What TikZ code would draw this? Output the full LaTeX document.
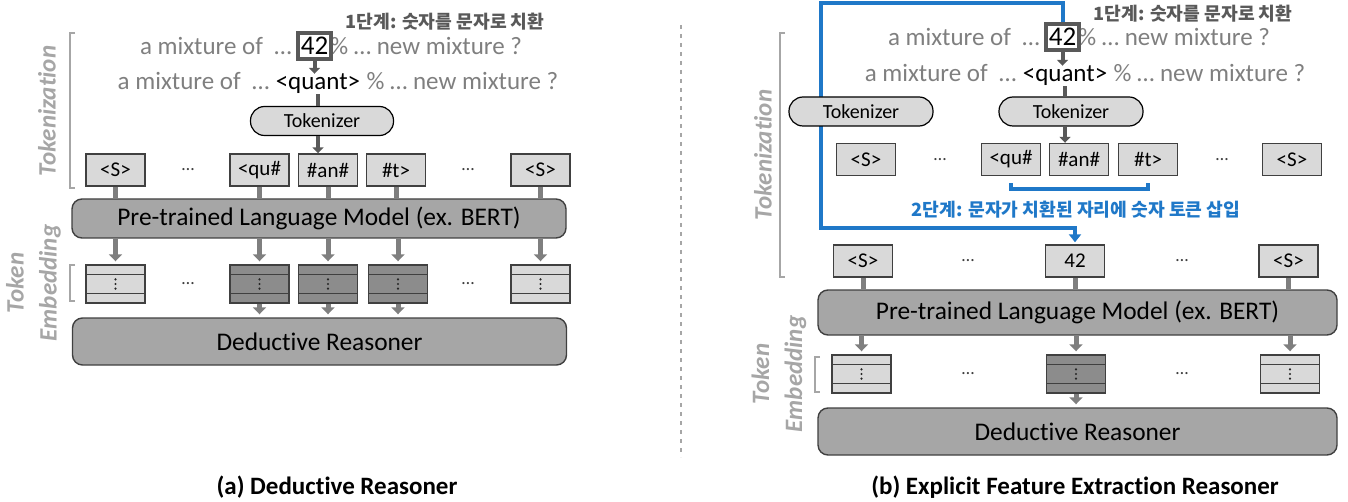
\documentclass[tikz,border=0pt]{standalone}
\usepackage{fontspec}
\setmainfont{Carlito}[Ligatures=NoCommon]
\newfontfamily\kr{Noto Sans CJK KR}
\usetikzlibrary{arrows.meta,backgrounds,calc}

\definecolor{txtgray}{HTML}{7F7F7F}
\definecolor{labgray}{HTML}{A6A6A6}
\definecolor{tokfill}{HTML}{D9D9D9}
\definecolor{plmfill}{HTML}{A6A6A6}
\definecolor{darkemb}{HTML}{8C8C8C}
\definecolor{boxline}{HTML}{404040}
\definecolor{linkgray}{HTML}{7F7F7F}
\definecolor{darklink}{HTML}{595959}
\definecolor{stepblue}{HTML}{1F78C8}

\tikzset{
  tok/.style={draw=boxline, line width=0.7pt, fill=tokfill, minimum width=29.5pt,
    minimum height=16pt, inner sep=0pt, font=\fontsize{10.5}{12}\selectfont},
  embbox/.style={draw=boxline, line width=0.7pt, fill=#1, minimum width=29.5pt,
    minimum height=19pt, inner sep=0pt,
    path picture={
      \draw[boxline, line width=0.5pt]
        ([yshift=-4.5pt]path picture bounding box.north west) --
        ([yshift=-4.5pt]path picture bounding box.north east);
      \draw[boxline, line width=0.5pt]
        ([yshift=5pt]path picture bounding box.south west) --
        ([yshift=5pt]path picture bounding box.south east);
      \foreach \d in {-2.3pt,0pt,2.3pt}
        \fill[black!85] ([yshift=\d]path picture bounding box.center) circle (0.6pt);
    }},
  bigbox/.style={draw=boxline, line width=0.7pt, fill=plmfill, rounded corners=5pt,
    inner sep=0pt, font=\fontsize{12.7}{15}\selectfont},
  tokzr/.style={draw=black, line width=0.6pt, fill=tokfill, rounded corners=7pt,
    minimum width=71.5pt, minimum height=14.5pt, inner sep=0pt,
    font=\fontsize{10}{12}\selectfont},
  sent/.style={text=txtgray, inner sep=0pt, font=\fontsize{12.5}{15}\selectfont},
  numbox/.style={draw=darklink, line width=2pt, fill=white, minimum width=16.5pt,
    minimum height=13pt, inner sep=0pt, font=\fontsize{13.5}{15}\selectfont},
  hdots/.style={inner sep=0pt, text=black!75, font=\fontsize{9}{10}\selectfont},
  sidelab/.style={text=labgray, rotate=90, align=center, inner sep=0pt,
    font=\fontsize{12.5}{16.5}\selectfont\bfseries\itshape},
  brk/.style={draw=labgray, line width=1.3pt},
  stepnote/.style={inner sep=0pt, font=\kr\bfseries\fontsize{9.1}{11}\selectfont},
  caption/.style={inner sep=0pt, font=\fontsize{12.5}{15}\selectfont\bfseries},
  glink/.style={draw=linkgray, line width=2.5pt},
  garrow/.style={draw=linkgray, line width=2.5pt, -{Triangle[width=6.5pt,length=3.5pt]}},
  darrow/.style={draw=darklink, line width=2pt, -{Triangle[width=5.5pt,length=3pt]}},
  dlink/.style={draw=darklink, line width=2pt},
  bluepath/.style={draw=stepblue, line width=2pt, -{Triangle[width=6pt,length=4pt]}},
  bluebrk/.style={draw=stepblue, line width=2pt},
  sepline/.style={draw=labgray, line width=1pt, dash pattern=on 2pt off 2.5pt},
}

\begin{document}
\begin{tikzpicture}[x=0.5pt, y=-0.5pt]
\path[use as bounding box] (0,0) rectangle (1348,502);

% ---------------- (a) Deductive Reasoner ----------------
\node[stepnote, text=darklink] (ltitle) at (445,22) {1단계: 숫자를 문자로 치환};

\node[numbox, anchor=base] (l42) at (314.5,55) {42};
\node[text=black, inner sep=0pt, font=\fontsize{12.5}{15}\selectfont, anchor=base] (lq) at (318,90) {<quant>};
\begin{scope}[on background layer]
  \node[sent, anchor=base east] (l1a) at ([xshift=-2pt]l42.base west) {a mixture of\ \ …\ };
  \node[sent, anchor=base west] (l1b) at ([xshift=-1.5pt]l42.base east) {\% … new mixture ?};
\end{scope}
\node[sent, anchor=base east] (l2a) at (lq.base west) {a mixture of\ \ …\ \ };
\node[sent, anchor=base west] (l2b) at (lq.base east) {\ \% … new mixture ?};

\node[tokzr] (ltkz) at (322,121) {Tokenizer};

\node[tok] (lt1) at (115.5,170) {<S>};
\node[tok] (lt2) at (259.5,170) {<qu\#};
\node[tok] (lt3) at (328,170) {\#an\#};
\node[tok] (lt4) at (396,170) {\#t>};
\node[tok] (lt5) at (540.5,170) {<S>};
\node[hdots] (ltd1) at (188,170) {…};
\node[hdots] (ltd2) at (468,170) {…};

\node[bigbox, minimum width=247pt, minimum height=19.5pt] (lplm) at (319,218.5)
  {Pre-trained Language Model (ex. BERT)};

\node[embbox=tokfill] (le1) at (115.5,284) {};
\node[embbox=darkemb] (le2) at (259.5,284) {};
\node[embbox=darkemb] (le3) at (328,284) {};
\node[embbox=darkemb] (le4) at (398,284) {};
\node[embbox=tokfill] (le5) at (540.5,284) {};
\node[hdots] (led1) at (188,284) {…};
\node[hdots] (led2) at (468,284) {…};

\node[bigbox, minimum width=247pt, minimum height=23.5pt] (lded) at (319.5,341.5)
  {Deductive Reasoner};

\draw[darrow] (l42.south) -- (l42.south |- lq.north);
\draw[dlink] (lq.south) -- (lq.south |- ltkz.north);
\draw[darrow] (ltkz.south -| lq) -- (lq |- lt3.north);
\foreach \t in {lt1,lt2,lt3,lt4,lt5}
  \draw[glink] (\t.south) -- (\t.south |- lplm.north);
\foreach \e in {le1,le2,le3,le4,le5}
  \draw[garrow, shorten >=1.5pt] (lplm.south -| \e) -- (\e.north);
\foreach \e in {le2,le3,le4}
  \draw[garrow, shorten >=1.5pt] (\e.south) -- (\e.south |- lded.north);

\node[sidelab] (ltokl) at (47,111) {Tokenization};
\draw[brk] (75,33) -- (70,33) -- (70,188) -- (75,188);
\node[sidelab] (lembl) at (33.5,283) {Token\\Embedding};
\draw[brk] (75,265) -- (70,265) -- (70,301) -- (75,301);

\node[caption] (lcap) at (337,487) {(a) Deductive Reasoner};

% separator
\draw[sepline] (681,25) -- (681,457);

% ---------------- (b) Explicit Feature Extraction Reasoner ----------------
\node[stepnote, text=darklink] (rtitle) at (1193,14) {1단계: 숫자를 문자로 치환};

\node[numbox, anchor=base] (r42) at (1062.5,46) {42};
\node[text=black, inner sep=0pt, font=\fontsize{12.5}{15}\selectfont, anchor=base] (rq) at (1065,82) {<quant>};
\begin{scope}[on background layer]
  \node[sent, anchor=base east] (r1a) at ([xshift=-2pt]r42.base west) {a mixture of\ \ …\ };
  \node[sent, anchor=base west] (r1b) at ([xshift=-1.5pt]r42.base east) {\% … new mixture ?};
\end{scope}
\node[sent, anchor=base east] (r2a) at (rq.base west) {a mixture of\ \ …\ \ };
\node[sent, anchor=base west] (r2b) at (rq.base east) {\ \% … new mixture ?};

\node[tok] (rt1) at (866,159.5) {<S>};
\node[tok] (rt2) at (1011,159.5) {<qu\#};
\node[tok] (rt3) at (1079,159.5) {\#an\#};
\node[tok] (rt4) at (1148,159.5) {\#t>};
\node[tok] (rt5) at (1292,159.5) {<S>};
\node[hdots] (rtd1) at (940,159.5) {…};
\node[hdots] (rtd2) at (1222,159.5) {…};

\node[tok] (rs1) at (863,261) {<S>};
\node[tok] (rs2) at (1075,261) {42};
\node[tok] (rs3) at (1288.5,261) {<S>};
\node[hdots] (rsd1) at (968,261) {…};
\node[hdots] (rsd2) at (1182,261) {…};

% step 2: numeric token is carried over to the place of the split word
\coordinate (bA) at (821,3);
\coordinate (bB) at (821,228);
\begin{scope}[on background layer]
  \draw[bluepath, shorten >=1pt] (r42.north) |- (bA) -- (bB) -| (rs2.north);
\end{scope}

\node[tokzr, minimum width=72pt] (rtkzA) at (861,111.5) {Tokenizer};
\node[tokzr, minimum width=72pt] (rtkzB) at (1071,111.5) {Tokenizer};

\draw[bluebrk] ($(rt2.south)+(0,7)$) -- ($(rt2.south)+(0,13)$) -| ($(rt4.south)+(0,7)$);
\node[stepnote, text=stepblue] (rnote) at (1076,210) {2단계: 문자가 치환된 자리에 숫자 토큰 삽입};

\node[bigbox, minimum width=259.5pt, minimum height=22.5pt] (rplm) at (1077.5,312.5)
  {Pre-trained Language Model (ex. BERT)};

\node[embbox=tokfill] (re1) at (861.5,374) {};
\node[embbox=darkemb] (re2) at (1076,374) {};
\node[embbox=tokfill] (re3) at (1290,374) {};
\node[hdots] (red1) at (968,374) {…};
\node[hdots] (red2) at (1182,374) {…};

\node[bigbox, minimum width=259.5pt, minimum height=23.5pt] (rded) at (1077.5,431.5)
  {Deductive Reasoner};

\draw[darrow] (r42.south) -- (r42.south |- rq.north);
\draw[dlink] (rq.south) -- (rq.south |- rtkzB.north);
\draw[darrow] (rtkzB.south -| rq) -- (rq |- rt3.north);
\foreach \t in {rs1,rs2,rs3}
  \draw[glink] (\t.south) -- (\t.south |- rplm.north);
\foreach \e in {re1,re2,re3}
  \draw[garrow, shorten >=1.5pt] (rplm.south -| \e) -- (\e.north);
\draw[garrow, shorten >=1.5pt] (re2.south) -- (re2.south |- rded.north);

\node[sidelab] (rtokl) at (763,155) {Tokenization};
\draw[brk] (785,33) -- (780,33) -- (780,277) -- (785,277);
\node[sidelab] (rembl) at (779,374) {Token\\Embedding};
\draw[brk] (820,357) -- (815,357) -- (815,392) -- (820,392);

\node[caption] (rcap) at (1075,487) {(b) Explicit Feature Extraction Reasoner};
\end{tikzpicture}
\end{document}
